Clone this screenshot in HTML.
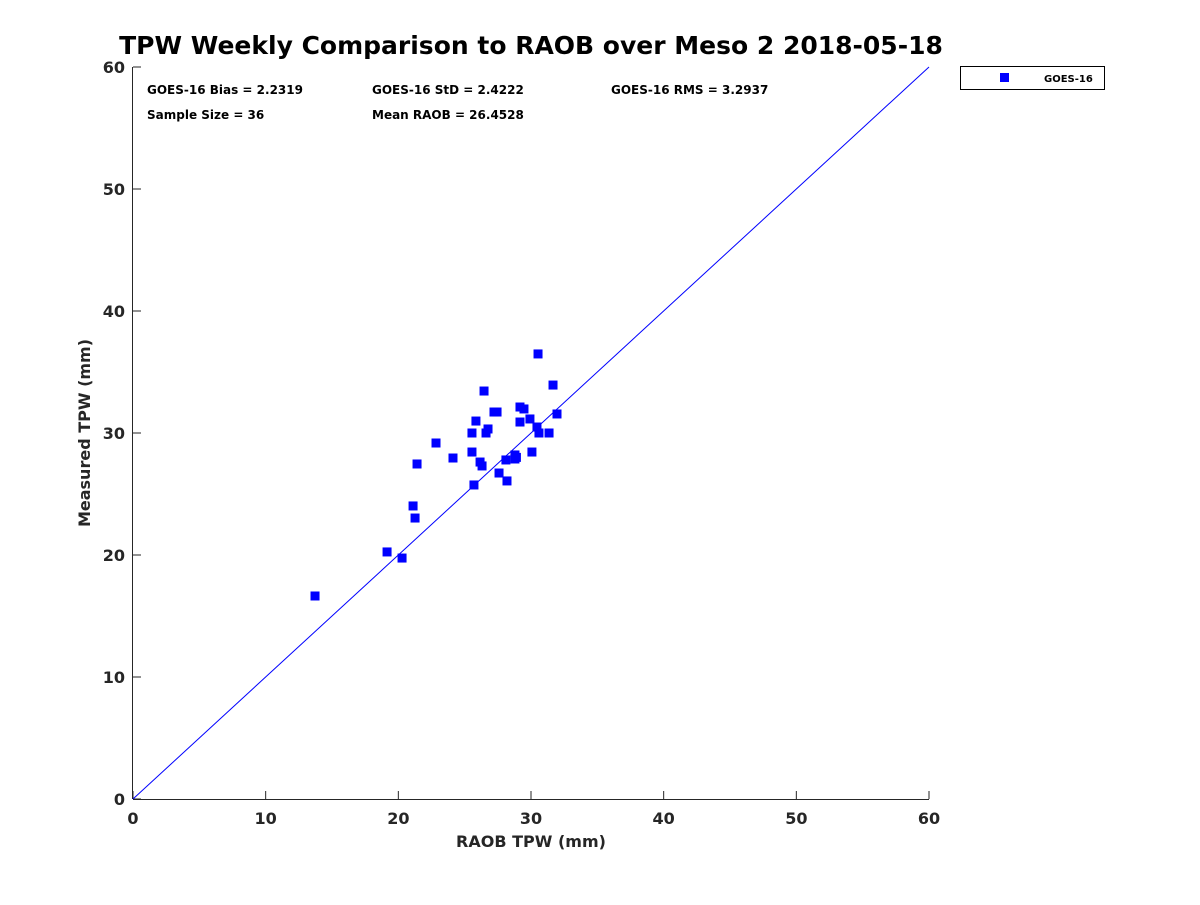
<!DOCTYPE html>
<html><head><meta charset="utf-8"><style>
body{margin:0;background:#fff;font-family:"Liberation Sans",sans-serif;}
svg text{font-family:"DejaVu Sans","Liberation Sans",sans-serif;font-weight:bold;fill:#262626;}
</style></head><body>
<svg width="1200" height="900">
<rect width="1200" height="900" fill="#fff"/>
<text x="531" y="54" text-anchor="middle" font-size="25" style="fill:#000">TPW Weekly Comparison to RAOB over Meso 2 2018-05-18</text>
<g id="axes"></g>
<g id="marks"></g>
<g font-size="12">
<text x="147" y="94" style="fill:#000">GOES-16 Bias = 2.2319</text>
<text x="372" y="94" style="fill:#000">GOES-16 StD = 2.4222</text>
<text x="611" y="94" style="fill:#000">GOES-16 RMS = 3.2937</text>
<text x="147" y="119" style="fill:#000">Sample Size = 36</text>
<text x="372" y="119" style="fill:#000">Mean RAOB = 26.4528</text>
</g>
<text x="531" y="847" text-anchor="middle" font-size="16">RAOB TPW (mm)</text>
<text transform="translate(90,433) rotate(-90)" text-anchor="middle" font-size="16">Measured TPW (mm)</text>
<g>
<rect x="960.5" y="66.5" width="144" height="23" fill="#fff" stroke="#000" stroke-width="1"/>
<rect x="1000" y="73" width="9" height="9" fill="#0000ff"/>
<text x="1044" y="82" font-size="10" style="fill:#000">GOES-16</text>
</g>
</svg>
<script>
const ticks=[0,10,20,30,40,50,60];
const raob=[13.72,19.15,20.28,21.11,21.26,21.41,22.84,24.12,25.55,25.55,25.70,25.85,26.16,26.31,26.46,26.61,26.76,27.21,27.44,27.59,28.11,28.19,28.79,28.79,29.17,29.17,29.47,29.92,30.07,30.45,30.60,31.36,31.66,31.96,30.53,28.9];
const measured=[16.64,20.25,19.75,24.02,23.03,27.46,29.18,27.95,30.00,28.44,25.74,30.98,27.62,27.30,33.44,30.00,30.33,31.72,31.72,26.72,27.79,26.07,27.87,28.20,32.13,30.90,31.97,31.15,28.44,30.49,30.00,30.00,33.93,31.56,36.48,28.0];
const X0=133,X1=929,Y0=799,Y1=67;
const sx=v=>X0+(v-0)/60*(X1-X0), sy=v=>Y0-(v-0)/60*(Y0-Y1);
const NS="http://www.w3.org/2000/svg";
const ax=document.getElementById('axes'), mk=document.getElementById('marks');
function mkEl(t,a,p){const e=document.createElementNS(NS,t);for(const k in a)e.setAttribute(k,a[k]);p.appendChild(e);return e;}
const xl=mkEl('line',{x1:X0,y1:Y0+.5,x2:X1,y2:Y0+.5,stroke:'#262626'},ax);


const yl=mkEl('line',{x1:X0-.5,y1:Y0,x2:X0-.5,y2:Y1,stroke:'#262626'},ax);


ticks.forEach(t=>{
 mkEl('line',{x1:sx(t),y1:Y0,x2:sx(t),y2:Y0-8,stroke:'#262626'},ax);
 mkEl('line',{x1:X0,y1:sy(t),x2:X0+8,y2:sy(t),stroke:'#262626'},ax);
 const tx=mkEl('text',{x:sx(t),y:Y0+25,'text-anchor':'middle','font-size':16},ax);tx.textContent=t;
 
 
 const ty=mkEl('text',{x:X0-8,y:sy(t)+6,'text-anchor':'end','font-size':16},ax);ty.textContent=t;
 
 
});
const ol=mkEl('line',{x1:sx(0),y1:sy(0),x2:sx(60),y2:sy(60),stroke:'#0000ff','stroke-width':1},mk);


raob.forEach((v,i)=>{
 const r=mkEl('rect',{x:sx(v)-4.5,y:sy(measured[i])-4.5,width:9,height:9,fill:'#0000ff'},mk);
 
 
});
</script>
</body></html>
